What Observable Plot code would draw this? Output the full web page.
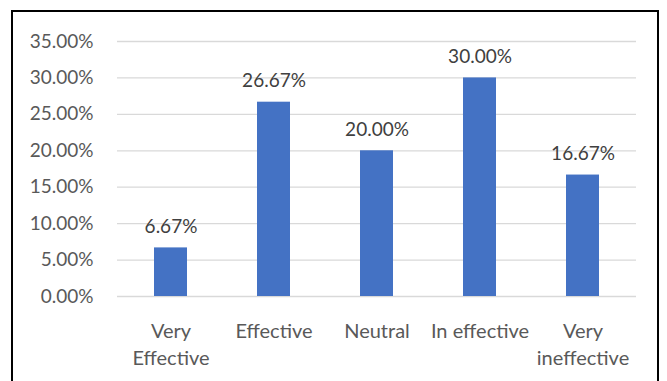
<!DOCTYPE html>
<html>
<head>
<meta charset="utf-8">
<script src="https://cdn.jsdelivr.net/npm/d3@7"></script>
<script src="https://cdn.jsdelivr.net/npm/@observablehq/plot@0.6"></script>
<style>
  html, body { margin: 0; padding: 0; background: #fff; }
  #wrap { position: relative; width: 667px; height: 381px; overflow: hidden; }
  #frame {
    position: absolute; left: 11px; top: 10px; width: 648px; height: 400px;
    border: 2px solid #000; box-sizing: border-box;
  }
  #chart { position: absolute; left: 0; top: 0; }
</style>
</head>
<body>
<div id="wrap">
  <div id="frame"></div>
  <div id="chart"></div>
</div>
<script>
// Response categories and their shares (fractions)
const categories = ["Very Effective", "Effective", "Neutral", "In effective", "Very ineffective"];
const tickLabels = ["Very\nEffective", "Effective", "Neutral", "In effective", "Very\nineffective"];
const shares = [0.0667, 0.2667, 0.2000, 0.3000, 0.1667];
const yTicks = [0, 0.05, 0.10, 0.15, 0.20, 0.25, 0.30, 0.35];

const data = categories.map((c, i) => ({category: c, share: shares[i]}));
const labelOf = new Map(categories.map((c, i) => [c, tickLabels[i]]));
const pct = d3.format(".2%");

const chart = Plot.plot({
  width: 667,
  height: 381,
  marginLeft: 117,
  marginRight: 31,
  marginTop: 41,
  marginBottom: 85,
  style: {fontFamily: "Lato, sans-serif", fontSize: "19px", color: "#595959", background: "transparent"},
  x: {domain: categories, paddingInner: 0.68, paddingOuter: 0.34, align: 0.5},
  y: {domain: [0, 0.35]},
  marks: [
    Plot.gridY(yTicks, {stroke: "#d9d9d9", strokeOpacity: 1, strokeWidth: 1.3}),
    Plot.axisY(yTicks, {tickSize: 0, tickPadding: 24, tickFormat: pct, fill: "#595959", fontSize: 19, label: null}),
    Plot.axisX({tickSize: 0, tickPadding: 22, tickFormat: d => labelOf.get(d), fill: "#595959", fontSize: 20, lineHeight: 1.35, label: null}),
    Plot.barY(data, {x: "category", y: "share", fill: "#4472C4"}),
    Plot.text(data, {x: "category", y: "share", text: d => pct(d.share), lineAnchor: "bottom", dy: -15, fill: "#404040", fontSize: 19})
  ]
});
document.getElementById("chart").appendChild(chart);
</script>
</body>
</html>
